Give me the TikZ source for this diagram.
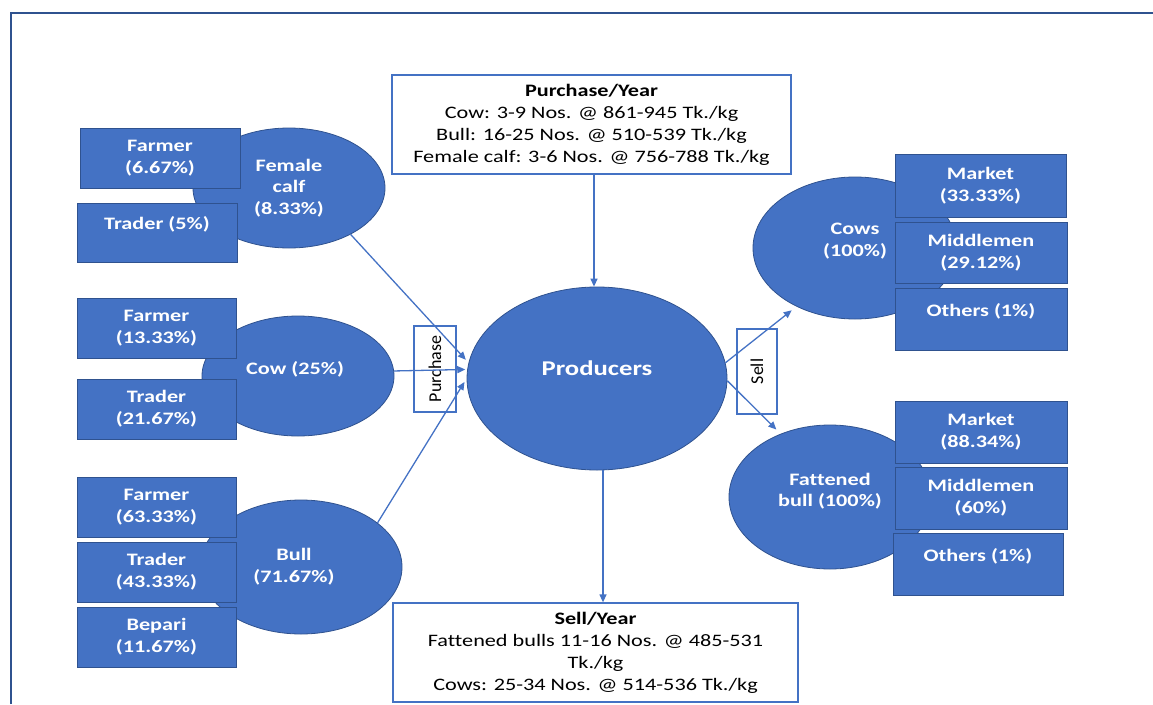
\documentclass[tikz,border=0pt]{standalone}
\usepackage{fontspec}
\setmainfont[Ligatures=NoCommon]{Carlito}
\newfontfamily\wideface[FakeStretch=1.27,Ligatures=NoCommon]{Carlito}
\usetikzlibrary{arrows.meta,shapes.geometric}
\definecolor{fillblue}{HTML}{4472C4}
\definecolor{edgeblue}{HTML}{2F528F}

\begin{document}
\begin{tikzpicture}[x=1pt,y=-1pt,
  blob/.style={ellipse, fill=fillblue, draw=edgeblue, line width=0.8pt,
    text=white, align=center, inner sep=0pt,
    font=\wideface\bfseries\fontsize{17.5}{21.7}\selectfont},
  tag/.style={rectangle, fill=fillblue, draw=edgeblue, line width=0.8pt,
    text=white, align=center, inner sep=0pt,
    font=\wideface\bfseries\fontsize{17.5}{21.7}\selectfont},
  infobox/.style={rectangle, draw=fillblue, line width=1.3pt, fill=white,
    text=black, align=center, inner sep=0pt,
    font=\wideface\fontsize{17.5}{22}\selectfont},
  sidelabel/.style={rectangle, draw=fillblue, line width=1.3pt,
    text=black, inner sep=0pt, rotate=90,
    font=\fontsize{18}{20}\selectfont},
  flow/.style={draw=fillblue, line width=1.3pt,
    -{Triangle[length=8pt,width=7pt]}},
  lift/.style={text depth=#1},
]
\useasboundingbox (0,0) rectangle (1153,704);

% outer frame (top and left edges)
\draw[edgeblue, line width=2pt] (11,704) |- (1153,12.5);

% ---------------- purchase side -----------------
\node[blob, minimum width=192, minimum height=120] (fcalf) at (289,188)
  {Female\\calf\\(8.33\%)};
\node[blob, lift=16pt, minimum width=192, minimum height=120] (cow) at (298,376)
  {\hspace*{-6pt}Cow (25\%)};
\node[blob, minimum width=202, minimum height=134] (bull) at (301,567)
  {\hspace*{-14pt}Bull\\\hspace*{-14pt}(71.67\%)};

\node[tag, minimum width=160, minimum height=60] (fc1) at (160,158) {Farmer\\(6.67\%)};
\node[tag, lift=18pt, minimum width=160, minimum height=59] (fc2) at (157,232.5) {Trader (5\%)};
\node[tag, minimum width=159, minimum height=60] (cw1) at (156.5,328) {Farmer\\(13.33\%)};
\node[tag, minimum width=159, minimum height=60] (cw2) at (156.5,409) {Trader\\(21.67\%)};
\node[tag, minimum width=159, minimum height=60] (bl1) at (156.5,507) {Farmer\\(63.33\%)};
\node[tag, minimum width=159, minimum height=60] (bl2) at (156.5,572) {Trader\\(43.33\%)};
\node[tag, minimum width=159, minimum height=60] (bl3) at (156.5,637) {Bepari\\(11.67\%)};

% ---------------- centre -----------------
\node[blob, lift=20pt, minimum width=260, minimum height=183,
  font=\wideface\bfseries\fontsize{21}{25}\selectfont] (prod) at (597,378.5) {Producers};

\node[sidelabel, minimum width=86, minimum height=42] (plab) at (435,369) {Purchase};
\node[sidelabel, minimum width=85, minimum height=40] (slab) at (757,371.5) {Sell};

\node[infobox, minimum width=399, minimum height=99] (pbox) at (591.5,124.5)
  {\textbf{Purchase/Year}\\Cow: 3-9 Nos. @ 861-945 Tk./kg\\Bull: 16-25 Nos. @ 510-539 Tk./kg\\Female calf: 3-6 Nos. @ 756-788 Tk./kg};
\node[infobox, minimum width=405, minimum height=99] (sbox) at (595.5,652.5)
  {\textbf{Sell/Year}\\Fattened bulls 11-16 Nos. @ 485-531\\Tk./kg\\Cows: 25-34 Nos. @ 514-536 Tk./kg};

% ---------------- sell side -----------------
\node[blob, lift=16pt, minimum width=204, minimum height=142] (cows) at (855,248) {Cows\\(100\%)};
\node[blob, lift=14pt, minimum width=202, minimum height=144] (fbull) at (830,497) {Fattened\\bull (100\%)};

\node[tag, minimum width=171, minimum height=63] (cs1) at (980.5,185.5) {Market\\(33.33\%)};
\node[tag, minimum width=172, minimum height=61] (cs2) at (981,252.5) {Middlemen\\(29.12\%)};
\node[tag, lift=18pt, minimum width=172, minimum height=62] (cs3) at (981,319) {Others (1\%)};
\node[tag, minimum width=172, minimum height=62] (fb1) at (981,432) {Market\\(88.34\%)};
\node[tag, minimum width=172, minimum height=62] (fb2) at (981,498) {Middlemen\\(60\%)};
\node[tag, lift=18pt, minimum width=170, minimum height=62] (fb3) at (978,564) {Others (1\%)};

% ---------------- connectors -----------------
\draw[flow, shorten >=4pt] (fcalf.-37) -- (prod.173);
\draw[flow, shorten >=2pt] (cow.3.6) -- (prod.176.5);
\draw[flow, shorten >=4pt] (bull.30.6) -- (prod.180);
\draw[flow] ([xshift=-3pt]pbox.south -| prod.north) -- ([xshift=-3pt]prod.north);
\draw[flow] ([xshift=6pt]prod.south) -- ([xshift=6pt]prod.south |- sbox.north);
\draw[flow, shorten >=6pt] (prod.7.5) -- (cows.225);
\draw[flow, shorten >=6pt] (prod.-1) -- (fbull.128.5);
\end{tikzpicture}
\end{document}
